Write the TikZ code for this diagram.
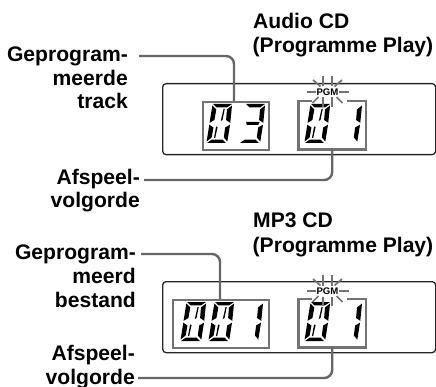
\documentclass[tikz,border=0pt]{standalone}
\usepackage{fontspec}
\setmainfont{Liberation Sans}
\tikzset{
  lab/.style={inner sep=0pt,align=right,anchor=base east,font=\bfseries\fontsize{21.1}{23.8}\selectfont},
  ttl/.style={inner sep=0pt,align=left,anchor=base west,font=\bfseries\fontsize{21.1}{24.2}\selectfont},
  panel/.style={draw=black!85,line width=1.3pt,rounded corners=3.5pt,inner sep=0pt,minimum height=71pt,anchor=north west,minimum width=273pt},
  lcdbox/.style={draw=black!55,line width=2.4pt,inner sep=0pt,minimum height=48pt,anchor=north west},
  lcdopen/.style={inner sep=0pt,minimum height=48pt,minimum width=67pt,anchor=north west},
  gapline/.style={draw=black!55,line width=2.4pt},
  lead/.style={draw=black!60,line width=2.4pt,rounded corners=8pt},
  ray/.style={draw=black!55,line width=1.7pt},
  pgmtext/.style={inner sep=0pt,font=\bfseries\fontsize{9.6}{10}\selectfont}
}
\newcommand{\segT}{\fill (2,0)--(21,0)--(16.5,3.4)--(6,3.4)--cycle;}
\newcommand{\segB}{\fill (1,39)--(20,39)--(16,35.6)--(5.5,35.6)--cycle;}
\newcommand{\segM}{\fill (4.5,18)--(18,18)--(17,21)--(5.5,21)--cycle;}
\newcommand{\segUL}{\fill (1.5,1.5)--(6,5.5)--(5.5,16)--(1,18.8)--cycle;}
\newcommand{\segUR}{\fill (21.2,1.5)--(21.7,18.8)--(17.2,16)--(16.7,5.5)--cycle;}
\newcommand{\segLL}{\fill (1,20.7)--(5.5,23.5)--(5,33.5)--(0.5,37.5)--cycle;}
\newcommand{\segLR}{\fill (21.7,20.7)--(21.2,37.5)--(17.2,33.5)--(17.2,23.5)--cycle;}
\newcommand{\segDA}{\fill (13.2,5)--(14.4,5)--(13.6,16)--(12,17)--cycle;}
\newcommand{\segDB}{\fill (8,22.5)--(9.6,23)--(8.6,34)--(7.4,34)--cycle;}
\newcommand{\dzero}[2]{\begin{scope}[shift={(#1+5,#2)},xslant=0.13]\segT\segB\segUL\segUR\segLL\segLR\segDA\segDB\end{scope}}
\newcommand{\done}[2]{\begin{scope}[shift={(#1+5,#2)},xslant=0.13]\segUR\segLR\end{scope}}
\newcommand{\dthree}[2]{\begin{scope}[shift={(#1+5,#2)},xslant=0.13]\segT\segM\segB\segUR\segLR\end{scope}}
\newcommand{\pgmburst}[2]{\begin{scope}[shift={(#1,#2)}]
  \node[pgmtext] (pgm) at (0,0) {PGM};
  \draw[ray] (-21,0)--(-11.5,0) (11.5,0)--(21,0);
  \draw[ray] (-4.5,-5.5)--(-4.5,-16) (4.5,-5.5)--(4.5,-16);
  \draw[ray] (-4.5,5.5)--(-4.5,15) (4.5,5.5)--(4.5,15);
  \draw[ray] (-14.5,-12)--(-7,-5.5) (14.5,-12)--(7,-5.5);
  \draw[ray] (-15,11)--(-9,5) (15,11)--(9,5);
\end{scope}}
\begin{document}
\begin{tikzpicture}[x=1pt,y=-1pt]
\useasboundingbox (0,0) rectangle (436,387);
\node[ttl] (t1a) at (253,29) {Audio CD};
\node[ttl] (t1b) at (252.5,53) {(Programme Play)};
\node[ttl] (t2a) at (253,228) {MP3 CD};
\node[ttl] (t2b) at (252.5,252) {(Programme Play)};
\node[lab] (g1) at (128,109) {Geprogram-\\meerde\\track};
\node[lab] (a1) at (140,208) {Afspeel-\\volgorde};
\node[lab] (g2) at (136,307) {Geprogram-\\meerd\\bestand};
\node[lab] (a2) at (135,384) {Afspeel-\\volgorde};
\node[panel] (p1) at (162,83) {};
\node[panel] (p2) at (162,281) {};
\node[lcdbox,minimum width=66pt] (b1) at (201.5,101) {};
\node[lcdopen] (b2) at (298.5,101) {};
\draw[gapline] (312,101)--(b2.north west)--(b2.south west)--(b2.south east)--(b2.north east)--(347,101);
\node[lcdbox,minimum width=96pt] (b3) at (171.5,299) {};
\node[lcdopen] (b4) at (298.5,299) {};
\draw[gapline] (312,299)--(b4.north west)--(b4.south west)--(b4.south east)--(b4.north east)--(347,299);
\coordinate (s1) at (139,56);
\coordinate (e1) at (234,101);
\coordinate (s2) at (144,180);
\coordinate (e2) at (b2.south);
\coordinate (s3) at (141,254);
\coordinate (e3) at (220,299);
\coordinate (s4) at (138,378);
\coordinate (e4) at (b4.south);
\draw[lead] (s1) -| (e1);
\draw[lead] (s2) -| (e2);
\draw[lead] (s3) -| (e3);
\draw[lead] (s4) -| (e4);
\dzero{206}{104}
\dthree{239}{104}
\dzero{304}{104}
\done{336}{104}
\dzero{180}{302}
\dzero{208}{302}
\done{237}{302}
\dzero{304}{302}
\done{336}{302}
\pgmburst{327.5}{92}
\pgmburst{327.5}{291}
\end{tikzpicture}
\end{document}
